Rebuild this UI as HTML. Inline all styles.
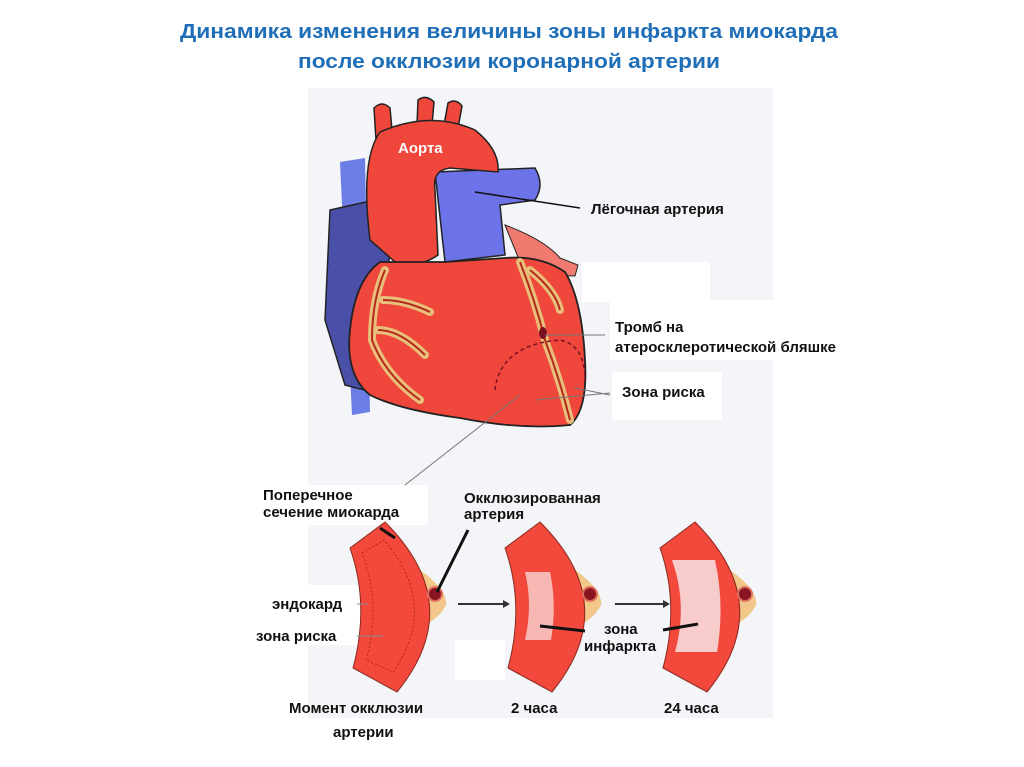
<!DOCTYPE html>
<html><head><meta charset="utf-8"><style>
html,body{margin:0;padding:0;background:#fff;}
svg{display:block;}
text{font-family:"Liberation Sans",sans-serif;font-weight:bold;}
</style></head><body>
<svg width="1024" height="767" viewBox="0 0 1024 767" xmlns="http://www.w3.org/2000/svg">
<rect width="1024" height="767" fill="#fff"/>
<text x="180" y="38" font-size="20" fill="#1f6fb8" textLength="658" lengthAdjust="spacingAndGlyphs">Динамика изменения величины зоны инфаркта миокарда</text>
<text x="298" y="68" font-size="20" fill="#1f6fb8" textLength="422" lengthAdjust="spacingAndGlyphs">после окклюзии коронарной артерии</text>
<rect x="308" y="88" width="465" height="630" fill="#f3f5f8"/>
<rect x="582" y="262" width="128" height="40" fill="#fff"/>
<rect x="610" y="300" width="200" height="60" fill="#fff"/>
<rect x="612" y="372" width="110" height="48" fill="#fff"/>
<rect x="258" y="485" width="170" height="40" fill="#fff"/>
<rect x="455" y="640" width="50" height="40" fill="#fff"/>
<rect x="260" y="585" width="100" height="60" fill="#fff"/>
<!-- vena cava -->
<path d="M340 162 L365 158 L370 412 L352 415 Z" fill="#6c7de6"/>
<path d="M330 210 L375 200 L390 250 L385 300 L372 392 L345 385 L325 320 Z" fill="#4a4fa8" stroke="#222" stroke-width="1.5"/>
<!-- pulmonary -->
<path d="M435 172 L535 168 Q545 185 535 200 L500 205 L505 255 L445 262 Z" fill="#6c72e8" stroke="#222" stroke-width="1.5"/>
<!-- left atrial appendage -->
<path d="M505 225 Q545 240 560 258 L578 265 L575 276 L540 275 L520 262 Z" fill="#f07a70" stroke="#222" stroke-width="1"/>
<!-- aorta branches -->
<path d="M376 140 L374 108 Q382 100 390 108 L392 130 Z" fill="#f0473c" stroke="#222" stroke-width="1.5"/>
<path d="M417 125 L418 100 Q426 94 434 102 L432 125 Z" fill="#f0473c" stroke="#222" stroke-width="1.5"/>
<path d="M444 125 L448 103 Q456 98 462 106 L458 128 Z" fill="#f0473c" stroke="#222" stroke-width="1.5"/>
<!-- aorta -->
<path d="M370 240 Q360 160 380 132 Q430 110 475 130 Q500 150 498 172 L450 168 Q432 170 435 190 L438 255 Q420 268 395 262 Z" fill="#f0473c" stroke="#222" stroke-width="1.5"/>
<!-- main heart -->
<path d="M380 262 Q430 262 445 262 L505 258 Q540 255 565 272 Q582 300 585 360 Q588 410 570 425 Q520 430 460 418 Q400 410 370 395 Q345 375 350 330 Q355 280 380 262 Z" fill="#f0473c" stroke="#222" stroke-width="1.8"/>
<g fill="none" stroke="#e8c07a" stroke-width="8" stroke-linecap="round">
<path d="M385 270 Q372 300 372 340 Q385 375 420 400"/>
<path d="M383 300 Q405 300 430 312"/>
<path d="M378 330 Q400 330 425 355"/>
<path d="M520 262 Q535 300 545 340 Q560 380 570 420"/>
<path d="M530 270 Q555 290 560 310"/>
</g>
<g fill="none" stroke="#b5281c" stroke-width="2">
<path d="M385 270 Q372 300 372 340 Q385 375 420 400"/>
<path d="M383 300 Q405 300 430 312"/>
<path d="M378 330 Q400 330 425 355"/>
<path d="M520 262 Q535 300 545 340 Q560 380 570 420"/>
<path d="M530 270 Q555 290 560 310"/>
</g>
<ellipse cx="543" cy="333" rx="4" ry="6" fill="#7a1020"/>
<path d="M495 390 Q500 345 560 340 Q585 345 585 380" fill="none" stroke="#7a1020" stroke-width="1.5" stroke-dasharray="4,3"/>
<text x="398" y="153" font-size="15" fill="#fff">Аорта</text>
<g stroke="#111" stroke-width="1.5">
<line x1="475" y1="192" x2="580" y2="208"/>
</g>
<g stroke="#777" stroke-width="1">
<line x1="545" y1="335" x2="605" y2="335"/>
<line x1="575" y1="388" x2="610" y2="395"/>
<line x1="535" y1="400" x2="610" y2="393"/>
<line x1="520" y1="395" x2="405" y2="485"/>
</g>
<text x="591" y="214" font-size="15" fill="#111">Лёгочная артерия</text>
<text x="615" y="332" font-size="15" fill="#111">Тромб на</text>
<text x="615" y="352" font-size="15" fill="#111">атеросклеротической бляшке</text>
<text x="622" y="397" font-size="15" fill="#111">Зона риска</text>
<text x="263" y="500" font-size="15" fill="#111">Поперечное</text>
<text x="263" y="517" font-size="15" fill="#111">сечение миокарда</text>
<text x="464" y="503" font-size="15" fill="#111">Окклюзированная</text>
<text x="464" y="519" font-size="15" fill="#111">артерия</text>
<!-- sections -->
<g>
<path d="M420 570 Q448 590 446 605 Q440 618 420 628 Z" fill="#f2c78a"/>
<path d="M350 548 L385 522 Q468 605 397 692 L353 668 Q370 605 350 548 Z" fill="#f2493c" stroke="#8a2a20" stroke-width="1"/>
<path d="M362 553 L384 540 Q440 605 393 672 L366 660 Q382 605 362 553 Z" fill="none" stroke="#b02a20" stroke-width="1" stroke-dasharray="2,2"/>
<circle cx="435" cy="594" r="7" fill="#8a1520" stroke="#e07060" stroke-width="2"/>
</g>
<g transform="translate(155,0)">
<path d="M420 570 Q448 590 446 605 Q440 618 420 628 Z" fill="#f2c78a"/>
<path d="M350 548 L385 522 Q468 605 397 692 L353 668 Q370 605 350 548 Z" fill="#f2493c" stroke="#8a2a20" stroke-width="1"/>
<path d="M370 572 L395 572 Q402 605 396 640 L370 640 Q378 605 370 572 Z" fill="#f7b8b4"/>
<circle cx="435" cy="594" r="7" fill="#8a1520" stroke="#e07060" stroke-width="2"/>
</g>
<g transform="translate(310,0)">
<path d="M420 570 Q448 590 446 605 Q440 618 420 628 Z" fill="#f2c78a"/>
<path d="M350 548 L385 522 Q468 605 397 692 L353 668 Q370 605 350 548 Z" fill="#f2493c" stroke="#8a2a20" stroke-width="1"/>
<path d="M362 560 L405 560 Q415 605 407 652 L365 652 Q378 605 362 560 Z" fill="#f9cccc"/>
<circle cx="435" cy="594" r="7" fill="#8a1520" stroke="#e07060" stroke-width="2"/>
</g>
<g stroke="#111" stroke-width="3">
<line x1="380" y1="528" x2="395" y2="538"/>
<line x1="468" y1="530" x2="437" y2="592"/>
<line x1="540" y1="626" x2="585" y2="631"/>
<line x1="663" y1="630" x2="698" y2="624"/>
</g>
<g stroke="#333" stroke-width="2">
<line x1="458" y1="604" x2="503" y2="604"/>
<line x1="615" y1="604" x2="663" y2="604"/>
</g>
<path d="M503 600 L510 604 L503 608 Z" fill="#333"/>
<path d="M663 600 L670 604 L663 608 Z" fill="#333"/>
<g stroke="#888" stroke-width="1">
<line x1="357" y1="604" x2="368" y2="604"/>
<line x1="357" y1="636" x2="383" y2="636"/>
</g>
<text x="272" y="609" font-size="15" fill="#111">эндокард</text>
<text x="256" y="641" font-size="15" fill="#111">зона риска</text>
<text x="604" y="634" font-size="15" fill="#111">зона</text>
<text x="584" y="651" font-size="15" fill="#111">инфаркта</text>
<text x="289" y="713" font-size="15" fill="#111">Момент окклюзии</text>
<text x="333" y="737" font-size="15" fill="#111">артерии</text>
<text x="511" y="713" font-size="15" fill="#111">2 часа</text>
<text x="664" y="713" font-size="15" fill="#111">24 часа</text>
</svg>
</body></html>
